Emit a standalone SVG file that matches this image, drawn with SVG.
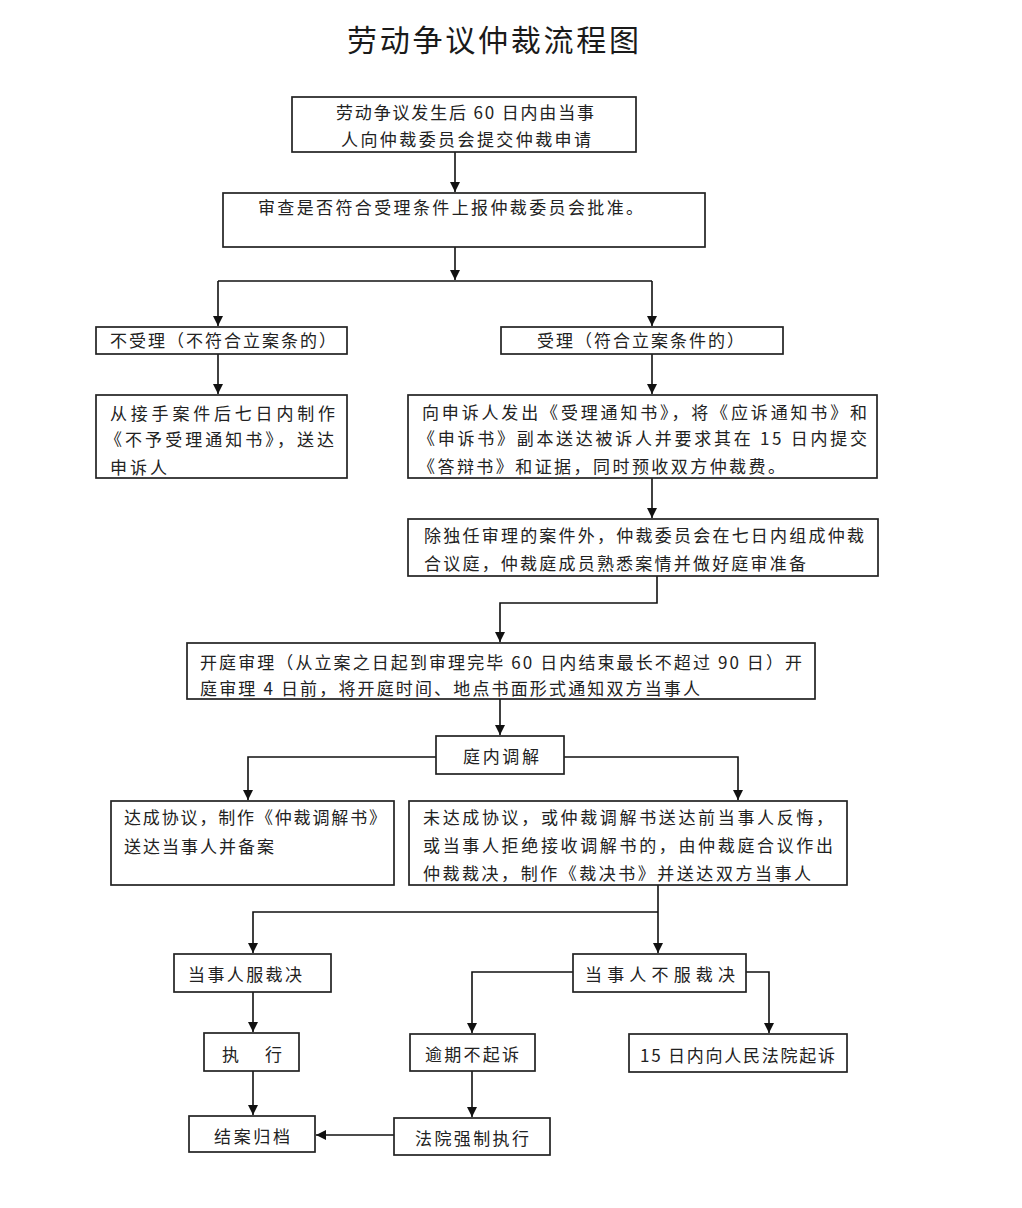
<svg xmlns="http://www.w3.org/2000/svg" width="1022" height="1208" viewBox="0 0 1022 1208">
<style>
.bg{fill:#ffffff}
.box{fill:#ffffff;stroke:#222;stroke-width:1.7}
.t{font-family:"Noto Sans CJK SC","Noto Sans",sans-serif;font-size:17px;fill:#222}
.title{font-family:"Noto Sans CJK SC","Noto Sans",sans-serif;font-size:30px;fill:#1a1a1a}
.ln{fill:none;stroke:#111;stroke-width:1.6}
</style>
<defs>
<marker id="ah" markerUnits="userSpaceOnUse" markerWidth="11" markerHeight="11" refX="10" refY="5" orient="auto">
<path d="M0,0 L10,5 L0,10 z" fill="#111"/>
</marker>
</defs>
<rect class="bg" x="0" y="0" width="1022" height="1208"/>
<text class="title" x="347" y="51" textLength="292" lengthAdjust="spacing">劳动争议仲裁流程图</text>

<g id="connectors">
<path class="ln" d="M455,152 V192" marker-end="url(#ah)"/>
<path class="ln" d="M455,247 V280" marker-end="url(#ah)"/>
<path class="ln" d="M218,281 H652"/>
<path class="ln" d="M218,281 V326" marker-end="url(#ah)"/>
<path class="ln" d="M652,281 V326" marker-end="url(#ah)"/>
<path class="ln" d="M218,354 V394" marker-end="url(#ah)"/>
<path class="ln" d="M652,354 V394" marker-end="url(#ah)"/>
<path class="ln" d="M652,478 V518" marker-end="url(#ah)"/>
<path class="ln" d="M657,576 V603 H500 V642" marker-end="url(#ah)"/>
<path class="ln" d="M500,699 V735" marker-end="url(#ah)"/>
<path class="ln" d="M436,757 H248 V800" marker-end="url(#ah)"/>
<path class="ln" d="M564,757 H738 V800" marker-end="url(#ah)"/>
<path class="ln" d="M658,885 V953" marker-end="url(#ah)"/>
<path class="ln" d="M658,912 H253 V953" marker-end="url(#ah)"/>
<path class="ln" d="M573,972 H472 V1033" marker-end="url(#ah)"/>
<path class="ln" d="M746,972 H769 V1033" marker-end="url(#ah)"/>
<path class="ln" d="M253,992 V1032" marker-end="url(#ah)"/>
<path class="ln" d="M253,1071 V1115" marker-end="url(#ah)"/>
<path class="ln" d="M472,1071 V1117" marker-end="url(#ah)"/>
<path class="ln" d="M394,1135 H316" marker-end="url(#ah)"/>
</g>

<g id="n1">
<rect class="box" x="292" y="97" width="344" height="55"/>
<text class="t" x="336" y="119" textLength="258" lengthAdjust="spacing">劳动争议发生后 60 日内由当事</text>
<text class="t" x="341" y="146" textLength="250" lengthAdjust="spacing">人向仲裁委员会提交仲裁申请</text>
</g>
<g id="n2">
<rect class="box" x="223" y="193" width="482" height="54"/>
<text class="t" x="258" y="214" textLength="385" lengthAdjust="spacing">审查是否符合受理条件上报仲裁委员会批准。</text>
</g>
<g id="n3">
<rect class="box" x="96" y="327" width="251" height="27"/>
<text class="t" x="110" y="347" textLength="226" lengthAdjust="spacing">不受理（不符合立案条的）</text>
</g>
<g id="n4">
<rect class="box" x="501" y="327" width="282" height="27"/>
<text class="t" x="537" y="347" textLength="207" lengthAdjust="spacing">受理（符合立案条件的）</text>
</g>
<g id="n5">
<rect class="box" x="96" y="395" width="251" height="83"/>
<text class="t" x="110" y="420" textLength="225" lengthAdjust="spacing">从接手案件后七日内制作</text>
<text class="t" x="105" y="446" textLength="229" lengthAdjust="spacing">《不予受理通知书》，送达</text>
<text class="t" x="110" y="474" textLength="57" lengthAdjust="spacing">申诉人</text>
</g>
<g id="n6">
<rect class="box" x="408" y="395" width="469" height="83"/>
<text class="t" x="422" y="419" textLength="445" lengthAdjust="spacing">向申诉人发出《受理通知书》，将《应诉通知书》和</text>
<text class="t" x="418" y="445" textLength="449" lengthAdjust="spacing">《申诉书》副本送达被诉人并要求其在 15 日内提交</text>
<text class="t" x="418" y="473" textLength="367" lengthAdjust="spacing">《答辩书》和证据，同时预收双方仲裁费。</text>
</g>
<g id="n7">
<rect class="box" x="408" y="519" width="470" height="57"/>
<text class="t" x="424" y="542" textLength="440" lengthAdjust="spacing">除独任审理的案件外，仲裁委员会在七日内组成仲裁</text>
<text class="t" x="424" y="570" textLength="382" lengthAdjust="spacing">合议庭，仲裁庭成员熟悉案情并做好庭审准备</text>
</g>
<g id="n8">
<rect class="box" x="187" y="643" width="628" height="56"/>
<text class="t" x="200" y="669" textLength="602" lengthAdjust="spacing">开庭审理（从立案之日起到审理完毕 60 日内结束最长不超过 90 日）开</text>
<text class="t" x="200" y="695" textLength="500" lengthAdjust="spacing">庭审理 4 日前，将开庭时间、地点书面形式通知双方当事人</text>
</g>
<g id="n9">
<rect class="box" x="436" y="736" width="128" height="38"/>
<text class="t" x="463" y="763" textLength="76" lengthAdjust="spacing">庭内调解</text>
</g>
<g id="n10">
<rect class="box" x="111" y="801" width="283" height="84"/>
<text class="t" x="124" y="824" textLength="262" lengthAdjust="spacing">达成协议，制作《仲裁调解书》</text>
<text class="t" x="124" y="853" textLength="150" lengthAdjust="spacing">送达当事人并备案</text>
</g>
<g id="n11">
<rect class="box" x="409" y="801" width="438" height="84"/>
<text class="t" x="423" y="824" textLength="410" lengthAdjust="spacing">未达成协议，或仲裁调解书送达前当事人反悔，</text>
<text class="t" x="423" y="852" textLength="410" lengthAdjust="spacing">或当事人拒绝接收调解书的，由仲裁庭合议作出</text>
<text class="t" x="423" y="880" textLength="388" lengthAdjust="spacing">仲裁裁决，制作《裁决书》并送达双方当事人</text>
</g>
<g id="n12">
<rect class="box" x="174" y="954" width="157" height="38"/>
<text class="t" x="188" y="981" textLength="114" lengthAdjust="spacing">当事人服裁决</text>
</g>
<g id="n13">
<rect class="box" x="573" y="954" width="173" height="38"/>
<text class="t" x="585" y="981" textLength="150" lengthAdjust="spacing">当事人不服裁决</text>
</g>
<g id="n14">
<rect class="box" x="410" y="1034" width="125" height="37"/>
<text class="t" x="425" y="1061" textLength="94" lengthAdjust="spacing">逾期不起诉</text>
</g>
<g id="n15">
<rect class="box" x="629" y="1034" width="218" height="38"/>
<text class="t" x="640" y="1062" textLength="195" lengthAdjust="spacing">15 日内向人民法院起诉</text>
</g>
<g id="n16">
<rect class="box" x="204" y="1033" width="95" height="38"/>
<text class="t" x="222" y="1061" textLength="60" lengthAdjust="spacing">执　行</text>
</g>
<g id="n17">
<rect class="box" x="189" y="1116" width="126" height="36"/>
<text class="t" x="214" y="1143" textLength="76" lengthAdjust="spacing">结案归档</text>
</g>
<g id="n18">
<rect class="box" x="394" y="1118" width="156" height="37"/>
<text class="t" x="415" y="1145" textLength="114" lengthAdjust="spacing">法院强制执行</text>
</g>
</svg>
